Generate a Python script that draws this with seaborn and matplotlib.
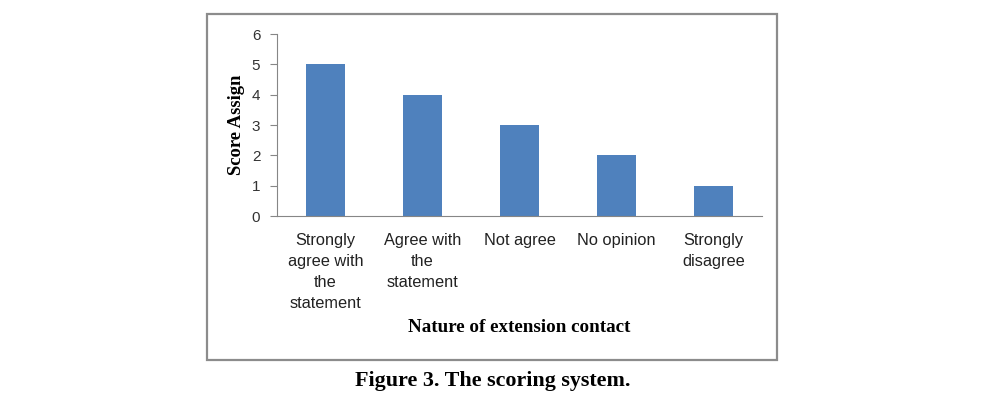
import matplotlib
matplotlib.use("Agg")
import matplotlib.pyplot as plt
import seaborn as sns
import pandas as pd
from matplotlib.patches import Rectangle

categories = ["Strongly\nagree with\nthe\nstatement", "Agree with\nthe\nstatement",
              "Not agree", "No opinion", "Strongly\ndisagree"]
scores = [5, 4, 3, 2, 1]
y_ticks = [0, 1, 2, 3, 4, 5, 6]

df = pd.DataFrame({"category": categories, "score": scores})

sns.set_theme(style="white")
plt.rcParams["font.family"] = ["Liberation Sans", "DejaVu Sans"]

fig = plt.figure(figsize=(9.92, 4.04), dpi=100)

# gray frame around the chart
fig.patches.append(Rectangle((0.2087, 0.1089), 0.5746, 0.8564, transform=fig.transFigure,
                             fill=False, edgecolor="#8c8c8c", linewidth=1.6))

ax = fig.add_axes([0.2792, 0.4653, 0.489, 0.4505])
sns.barplot(data=df, x="category", y="score", color="#4F81BD", saturation=1,
            width=0.41, linewidth=0, ax=ax)

ax.set_ylim(0, 6)
ax.set_xlim(-0.5, 4.5)
ax.set_yticks(y_ticks)
ax.set_yticklabels([str(t) for t in y_ticks], fontsize=11, color="#333333")
ax.tick_params(axis="y", left=True, direction="out", length=5, width=0.8,
               color="#868686", pad=7)
ax.tick_params(axis="x", bottom=False, length=0, pad=12, labelsize=11.8)
for lbl in ax.get_xticklabels():
    lbl.set_linespacing(1.5)
    lbl.set_color("#222222")

sns.despine(ax=ax)
for s in ["left", "bottom"]:
    ax.spines[s].set_color("#868686")
    ax.spines[s].set_linewidth(0.8)

serif = ["Liberation Serif", "DejaVu Serif"]
ax.set_ylabel("Score Assign", fontsize=13.4, fontweight="bold", family=serif,
              color="black", labelpad=5)
ax.set_xlabel("Nature of extension contact", fontsize=13.7, fontweight="bold",
              family=serif, color="black", labelpad=6)

fig.text(0.497, 0.057, "Figure 3. The scoring system.", ha="center", va="center",
         fontsize=15.8, fontweight="bold", family=serif, color="black")

fig.savefig("out.png", dpi=100)
